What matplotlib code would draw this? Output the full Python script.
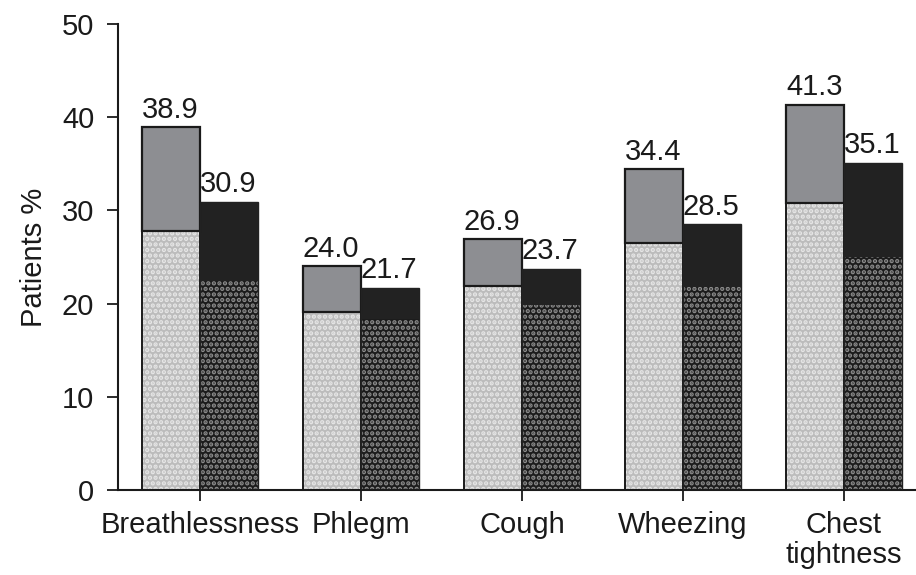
import matplotlib
matplotlib.use("Agg")
import matplotlib.pyplot as plt
import numpy as np

# =========================
# Data
# =========================

categories = ["Breathlessness", "Phlegm", "Cough", "Wheezing", "Chest\ntightness"]

left_total = [38.9, 24.0, 26.9, 34.4, 41.3]
left_base = [27.8, 19.1, 21.9, 26.5, 30.8]

right_total = [30.9, 21.7, 23.7, 28.5, 35.1]
right_base = [22.4, 18.3, 19.8, 21.8, 25.0]

y_ticks = [0, 10, 20, 30, 40, 50]

# =========================
# Style
# =========================

plt.rcParams["font.family"] = ["Liberation Sans", "DejaVu Sans"]
plt.rcParams["hatch.linewidth"] = 2.2

FS = 21
INK = "#1a1a1a"
BAR_W = 0.36

fig = plt.figure(figsize=(9.16, 5.75), dpi=100)
ax = fig.add_axes([0.1288, 0.1478, 0.8712, 0.8105])

x = np.arange(len(categories))
xl = x - BAR_W / 2
xr = x + BAR_W / 2

lt = np.array(left_total)
lb = np.array(left_base)
rt = np.array(right_total)
rb = np.array(right_base)

# left bars: light dotted base + gray top
ax.bar(xl, lb, BAR_W, color="#bcbcbc", edgecolor="#e6e6e6",
       hatch="...", linewidth=0, zorder=2)
ax.bar(xl, lt - lb, BAR_W, bottom=lb, color="#8d8e92", linewidth=0, zorder=2)
ax.bar(xl, lb, BAR_W, fill=False, edgecolor=INK, linewidth=1.4, zorder=3)
ax.bar(xl, lt - lb, BAR_W, bottom=lb, fill=False,
       edgecolor=INK, linewidth=1.6, zorder=3)

# right bars: dark checkered base + black top
ax.bar(xr, rb, BAR_W, color="#1c1c1c", edgecolor="#8c8c8c",
       hatch="...", linewidth=0, zorder=2)
ax.bar(xr, rt - rb, BAR_W, bottom=rb, color="#222222", linewidth=0, zorder=2)
ax.bar(xr, rt, BAR_W, fill=False, edgecolor="#222222", linewidth=1.0, zorder=3)

# value labels
for xi, v in zip(xl, left_total):
    ax.text(xi - BAR_W / 2, v + 0.4, f"{v:.1f}", ha="left", va="bottom",
            fontsize=FS, color=INK, zorder=4)

for xi, v in zip(xr, right_total):
    ax.text(xi - BAR_W / 2, v + 0.4, f"{v:.1f}", ha="left", va="bottom",
            fontsize=FS, color=INK, zorder=4)

# axes
ax.set_xlim(-0.509, 4.448)
ax.set_ylim(0, 50)
ax.set_yticks(y_ticks)
ax.set_xticks(x)
ax.set_xticklabels(categories, fontsize=FS, linespacing=1.1)
ax.tick_params(axis="y", labelsize=FS, length=8, width=1.3,
               color=INK, labelcolor=INK, pad=9)
ax.tick_params(axis="x", length=8, width=1.3,
               color=INK, labelcolor=INK, pad=7)

ax.set_ylabel("Patients %", fontsize=FS, color=INK, labelpad=10)

for side in ["top", "right"]:
    ax.spines[side].set_visible(False)
for side in ["left", "bottom"]:
    ax.spines[side].set_linewidth(1.5)
    ax.spines[side].set_color(INK)

fig.savefig("out.png", dpi=100)
